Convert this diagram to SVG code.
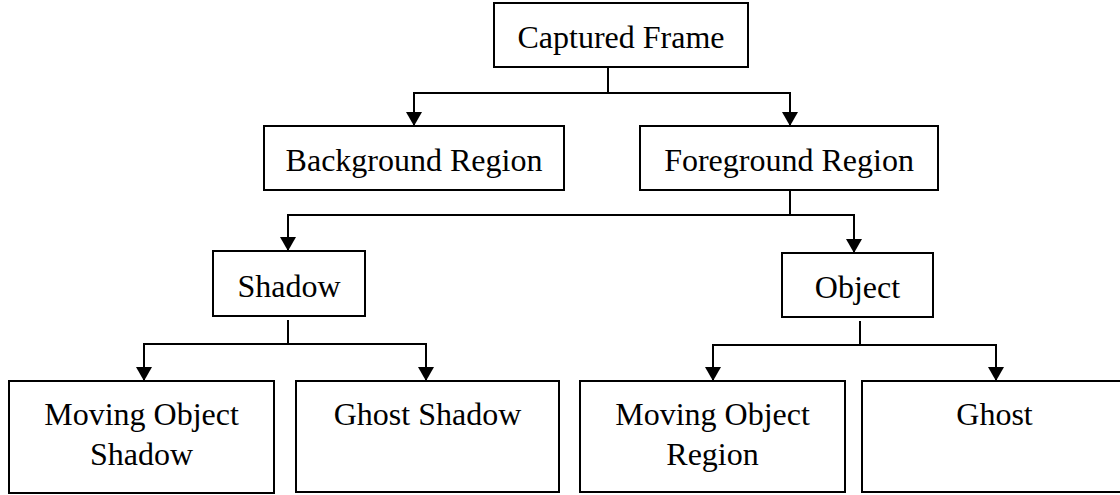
<svg xmlns="http://www.w3.org/2000/svg" width="1120" height="495" viewBox="0 0 1120 495">
  <style>
    .box { fill: #ffffff; stroke: #000000; stroke-width: 2; }
    .label { font-family: "Liberation Serif", "Times New Roman", serif; font-size: 32px; fill: #000000; text-anchor: middle; }
    .wire { fill: none; stroke: #000000; stroke-width: 2; }
    .arrow { fill: none; stroke: #000000; stroke-width: 2; marker-end: url(#head); }
  </style>
  <defs>
    <marker id="head" viewBox="0 0 14 16" markerWidth="14" markerHeight="16" refX="14" refY="8" markerUnits="userSpaceOnUse" orient="auto">
      <path d="M0,0 L14,8 L0,16 Z" fill="#000000"/>
    </marker>
  </defs>
  <rect width="1120" height="495" fill="#ffffff"/>

  <g id="connectors">
    <!-- Captured Frame -> Background / Foreground -->
    <path class="wire" d="M608,67 V93 M414,93 H790"/>
    <path class="arrow" d="M414,92 V126"/>
    <path class="arrow" d="M790,92 V126"/>
    <!-- Foreground -> Shadow / Object -->
    <path class="wire" d="M790,190 V215 M288,215 H854"/>
    <path class="arrow" d="M288,214 V251"/>
    <path class="arrow" d="M854,214 V253"/>
    <!-- Shadow -> children -->
    <path class="wire" d="M288,320 V344 M144,344 H426"/>
    <path class="arrow" d="M144,343 V381"/>
    <path class="arrow" d="M426,343 V381"/>
    <!-- Object -> children -->
    <path class="wire" d="M860,321 V345 M713,345 H996"/>
    <path class="arrow" d="M713,344 V381"/>
    <path class="arrow" d="M996,344 V381"/>
  </g>

  <g id="captured-frame">
    <rect class="box" x="494" y="3" width="254" height="64"/>
    <text class="label" x="621" y="48">Captured Frame</text>
  </g>
  <g id="background-region">
    <rect class="box" x="264" y="126" width="300" height="64"/>
    <text class="label" x="414" y="171">Background Region</text>
  </g>
  <g id="foreground-region">
    <rect class="box" x="640" y="126" width="298" height="64"/>
    <text class="label" x="789" y="171">Foreground Region</text>
  </g>
  <g id="shadow">
    <rect class="box" x="213" y="251" width="152" height="65"/>
    <text class="label" x="289" y="297">Shadow</text>
  </g>
  <g id="object">
    <rect class="box" x="782" y="253" width="151" height="64"/>
    <text class="label" x="857.5" y="298">Object</text>
  </g>
  <g id="moving-object-shadow">
    <rect class="box" x="9" y="381" width="265" height="112"/>
    <text class="label" x="141.5" y="425">Moving Object</text>
    <text class="label" x="141.5" y="465">Shadow</text>
  </g>
  <g id="ghost-shadow">
    <rect class="box" x="296" y="381" width="263" height="111"/>
    <text class="label" x="427.5" y="425">Ghost Shadow</text>
  </g>
  <g id="moving-object-region">
    <rect class="box" x="580" y="381" width="265" height="111"/>
    <text class="label" x="712.5" y="425">Moving Object</text>
    <text class="label" x="712.5" y="465">Region</text>
  </g>
  <g id="ghost">
    <rect class="box" x="862" y="381" width="265" height="111"/>
    <text class="label" x="994.5" y="425">Ghost</text>
  </g>
</svg>
